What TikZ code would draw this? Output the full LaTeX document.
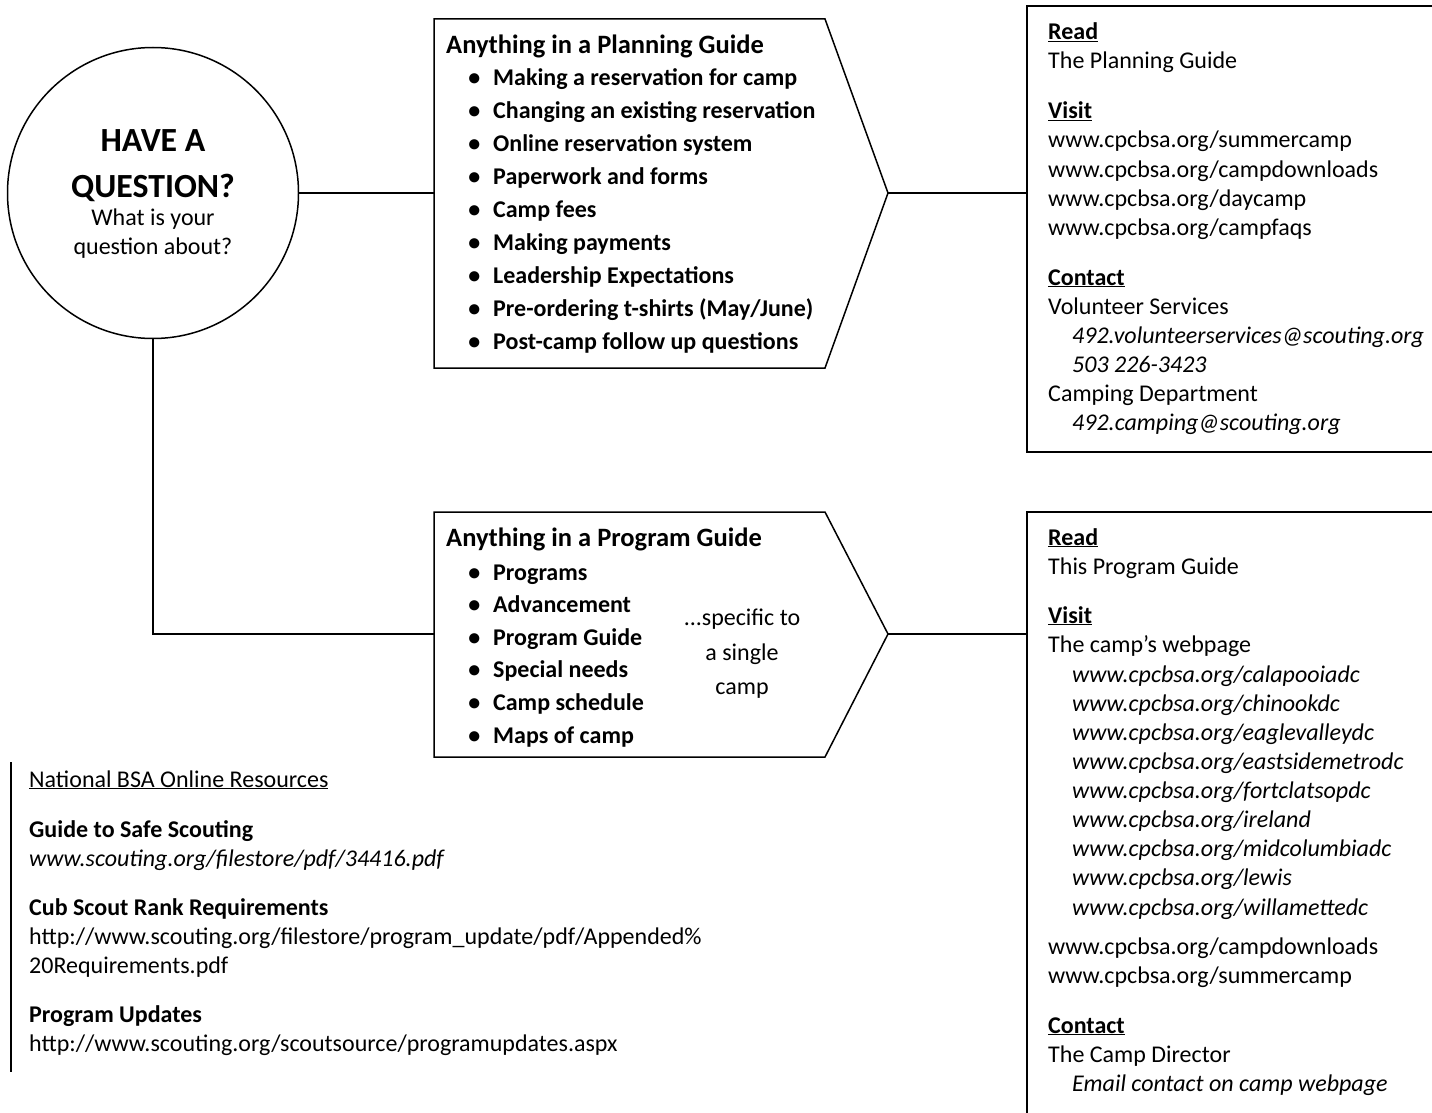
\documentclass[tikz,border=0pt]{standalone}
\usepackage{fontspec}
\setmainfont{Carlito}
\newcommand\hd[1]{\textbf{\underline{#1}}}
\newcommand\ind[1]{\hspace*{24pt}\textit{#1}}
\tikzset{
	line/.style={line width=1.5pt},
	txt/.style={anchor=base west, inner sep=0pt, font=\fontsize{24}{29}\selectfont},
	item/.style={txt, font=\fontsize{24}{29}\selectfont\bfseries},
	head/.style={txt, font=\fontsize{26.5}{32}\selectfont\bfseries},
	big/.style={anchor=base, inner sep=0pt, font=\fontsize{33.8}{40}\selectfont\bfseries},
	mid/.style={anchor=base, inner sep=0pt, font=\fontsize{24}{29}\selectfont}
}
\begin{document}
\begin{tikzpicture}[x=1pt,y=-1pt]
	\useasboundingbox (0,0) rectangle (1432,1113);
	\node[draw, line, circle, minimum size=291pt, inner sep=0pt] (q) at (153,193) {};
	\node[big] (q1) at (153,152) {HAVE A};
	\node[big] (q2) at (153,197) {QUESTION?};
	\node[mid] (q3) at (153,225) {What is your};
	\node[mid] (q4) at (153,254) {question about?};
	\draw[line] (434,19) -- (825,19) -- (888,193) coordinate (pl-tip)
	-- (825,368) -- (434,368) -- cycle;
	\draw[line] (434,512) -- (825,512) -- (888,634) coordinate (pg-tip)
	-- (825,757) -- (434,757) -- cycle;
	\coordinate (pl-in) at (434,193);
	\coordinate (pg-in) at (434,634);
	\draw[line] (1027,6) rectangle (1450,452);
	\draw[line] (1027,512) rectangle (1450,1130);
	\coordinate (r1-in) at (1027,193);
	\coordinate (r2-in) at (1027,634);
	\draw[line] (q.east) -- (pl-in);
	\draw[line] (q.south) |- (pg-in);
	\draw[line] (pl-tip) -- (r1-in);
	\draw[line] (pg-tip) -- (r2-in);
	\node[head] (pl-h) at (446,54) {Anything in a Planning Guide};
	\foreach \txt [count=\i from 0] in {Making a reservation for camp,
	Changing an existing reservation, Online reservation system,
	Paperwork and forms, Camp fees, Making payments, Leadership Expectations,
	{Pre-ordering t-shirts (May/June)}, Post-camp follow up questions}
	\node[item] (pl-\i) at (493,86+32.9*\i) {\llap{\textbullet\hspace{13pt}}\txt};
	\node[head] (pg-h) at (446,546) {Anything in a Program Guide};
	\foreach \txt [count=\i from 0] in {Programs, Advancement, Program Guide,
	Special needs, Camp schedule, Maps of camp}
	\node[item] (pg-\i) at (493,580+32.6*\i) {\llap{\textbullet\hspace{13pt}}\txt};
	\node[mid] (sp1) at (742,625) {...specific to};
	\node[mid] (sp2) at (742,660) {a single};
	\node[mid] (sp3) at (742,694) {camp};
	\foreach \y/\txt [count=\i] in {40/\hd{Read}, 69/The Planning Guide,
	119/\hd{Visit}, 148/{www.cpcbsa.org/summercamp},
	177/{www.cpcbsa.org/campdownloads}, 206/{www.cpcbsa.org/daycamp},
	235/{www.cpcbsa.org/campfaqs}, 285/\hd{Contact}, 314/Volunteer Services,
	343/\ind{492.volunteerservices@scouting.org}, 372/\ind{503 226-3423},
	401/Camping Department, 430/\ind{492.camping@scouting.org}}
	\node[txt] (r1-\i) at (1048,\y) {\txt};
	\foreach \y/\txt [count=\i] in {545/\hd{Read}, 574/This Program Guide,
	623/\hd{Visit}, 652/The camp’s webpage,
	682/\ind{www.cpcbsa.org/calapooiadc}, 711/\ind{www.cpcbsa.org/chinookdc},
	740/\ind{www.cpcbsa.org/eaglevalleydc}, 769/\ind{www.cpcbsa.org/eastsidemetrodc},
	798/\ind{www.cpcbsa.org/fortclatsopdc}, 827/\ind{www.cpcbsa.org/ireland},
	856/\ind{www.cpcbsa.org/midcolumbiadc}, 885/\ind{www.cpcbsa.org/lewis},
	915/\ind{www.cpcbsa.org/willamettedc},
	954/{www.cpcbsa.org/campdownloads}, 983/{www.cpcbsa.org/summercamp},
	1033/\hd{Contact}, 1062/The Camp Director,
	1091/\ind{Email contact on camp webpage}}
	\node[txt] (r2-\i) at (1048,\y) {\txt};
	\draw[line] (11,762) -- (11,1072);
	\foreach \y/\txt [count=\i] in {787/\underline{National BSA Online Resources},
	837/\textbf{Guide to Safe Scouting},
	866/\textit{www.scouting.org/filestore/pdf/34416.pdf},
	915/\textbf{Cub Scout Rank Requirements},
	944/{http://www.scouting.org/filestore/program\_update/pdf/Appended\%},
	973/20Requirements.pdf, 1022/\textbf{Program Updates},
	1051/{http://www.scouting.org/scoutsource/programupdates.aspx}}
	\node[txt] (nb-\i) at (29,\y) {\txt};
\end{tikzpicture}
\end{document}
